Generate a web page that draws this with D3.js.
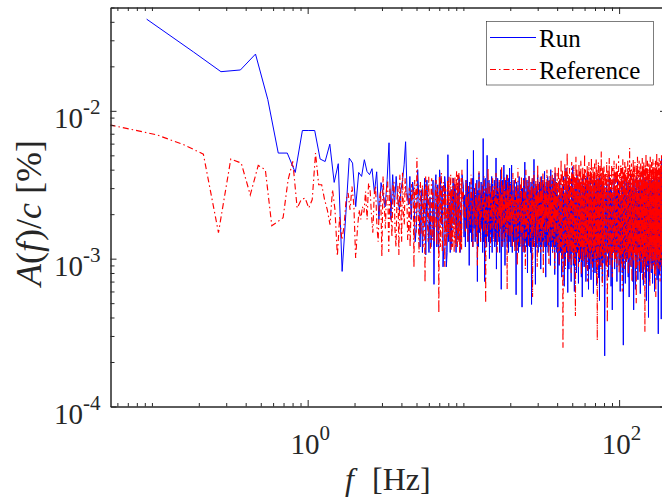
<!DOCTYPE html>
<html><head><meta charset="utf-8">
<script src="https://cdn.jsdelivr.net/npm/d3@7"></script>
<style>html,body{margin:0;padding:0;background:#fff;} svg{display:block;}</style>
</head><body>
<svg id="chart" width="662" height="500"></svg>
<script>
// ---------------- DATA ----------------
const seriesNames = ["Run", "Reference"];
const xTickValues = [1, 100];
const yTickValues = [1e-4, 1e-3, 1e-2];

// Run: low-frequency FFT bins
const runFreq = [0.0925,0.185,0.2775,0.37,0.4625,0.555,0.6475,0.74,0.8325,0.925,1.0175,1.11,1.2025,1.295,1.3875,1.48,1.5725,1.665,1.7575,1.85,
1.9425,2.035,2.1275,2.22,2.3125,2.405,2.4975,2.59,2.6825,2.775,2.8675,2.96,3.0525,3.145,3.2375,3.33,3.4225,3.515,3.6075,3.7,
3.7925,3.885,3.9775,4.07,4.1625,4.255,4.3475,4.44,4.625,4.81,4.995,5.18,5.365,5.55,5.735,5.92,6.105,6.29,6.475,6.66,
6.845,7.03,7.215,7.4,7.585,7.77,7.955,8.14,8.325,8.51,8.695,8.88,9.065,9.25,9.435,9.62,9.805];
const runAmp = [0.0417,0.0250,0.0184,0.0189,0.0242,0.0119,0.00518,0.00518,0.00383,0.00736,0.00736,0.00736,0.00472,0.00454,0.00595,0.00328,0.00439,0.00082,0.00198,0.00479,
0.00443,0.00225,0.00383,0.00360,0.00467,0.00389,0.00370,0.00406,0.00279,0.00387,0.00184,0.00327,0.00270,0.00224,0.00342,0.00608,0.00184,0.00370,0.00224,0.00360,
0.00251,0.00214,0.00293,0.00342,0.00431,0.00618,0.00279,0.00232,0.00184,0.00279,0.00164,0.00251,0.00293,0.00214,0.00106,0.00198,0.00262,0.00157,0.00067,0.00370,
0.00316,0.00399,0.00170,0.00088,0.00360,0.00088,0.00505,0.00239,0.00293,0.00262,0.00170,0.00306,0.00239,0.00134,0.00342,0.00214,0.00370];
// Run: remaining (odd) bins between 4.5 and 10 Hz
const runFreqOdd = [4.5325,4.7175,4.9025,5.0875,5.2725,5.4575,5.6425,5.8275,6.0125,6.1975,6.3825,6.5675,6.7525,6.9375,7.1225,
7.3075,7.4925,7.6775,7.8625,8.0475,8.2325,8.4175,8.6025,8.7875,8.9725,9.1575,9.3425,9.5275,9.7125];
const runAmpOdd = [.0036,.0033,.0013,.0040,.0012,.0011,.0035,.0034,.0011,.0012,.0034,.0030,.0012,.0011,.0034,
.0031,.0012,.0031,.0011,.0013,.0011,.0012,.0035,.0032,.0011,.0031,.0036,.0011,.0013];

// Reference: low-frequency FFT bins
const refFreq = [0.0535,0.107,0.1605,0.214,0.2675,0.321,0.3745,0.428,0.4815,0.535,0.5885,0.642,0.6955,0.749,0.8025,0.856,0.9095,0.963,1.0165,1.07,
1.1235,1.177,1.2305,1.284,1.3375,1.391,1.4445,1.498,1.5515,1.605,1.6585,1.712,1.7655,1.819,1.8725,1.926,1.9795,2.033,2.0865,2.14,
2.1935,2.247,2.3005,2.354,2.4075,2.461,2.568,2.675,2.782,2.889,2.996,3.103,3.21,3.317,3.424,3.531,3.638,3.745,3.852,3.959,
4.066,4.173,4.28,4.387,4.494,4.601,4.708,4.815,4.922,5.029,5.136,5.243,5.35,5.457,5.564,5.671,5.778,5.885,5.992,6.099,
6.206,6.313,6.42,6.527,6.634,6.741,6.848,6.955,7.062,7.169,7.276,7.383,7.49,7.597,7.704,7.811,7.918,8.025,8.132,8.239,
8.346,8.453,8.56,8.667,8.774,8.881,8.988,9.095,9.202,9.309,9.416,9.523,9.63,9.737,9.844];
const refAmp = [0.00804,0.00689,0.00589,0.00509,0.00150,0.00472,0.00443,0.00270,0.00427,0.00399,0.00167,0.00178,0.00189,0.00342,0.00455,0.00220,0.00251,0.00257,0.00220,0.00251,
0.00518,0.00316,0.00316,0.00251,0.00214,0.00170,0.00293,0.00214,0.00104,0.00193,0.00134,0.00165,0.00251,0.00278,0.00214,0.00308,0.00232,0.00101,0.00157,0.00214,
0.00184,0.00225,0.00205,0.00285,0.00184,0.00324,0.00198,0.00270,0.00170,0.00251,0.00103,0.00232,0.00293,0.00111,0.00214,0.00316,0.00157,0.00251,0.00106,0.00232,
0.00381,0.00170,0.00270,0.00134,0.00302,0.00198,0.00251,0.00087,0.00270,0.00481,0.00184,0.00293,0.00145,0.00316,0.00214,0.00069,0.00251,0.00170,0.00358,0.00198,
0.00293,0.00134,0.00270,0.00190,0.00331,0.00124,0.00232,0.00043,0.00251,0.00316,0.00162,0.00270,0.00198,0.00088,0.00293,0.00214,0.00342,0.00145,0.00251,0.00284,
0.00115,0.00232,0.00353,0.00170,0.00258,0.00134,0.00293,0.00208,0.00370,0.00152,0.00251,0.00170,0.00316,0.00115,0.00251];
// Reference: remaining (odd) bins between 2.5 and 10 Hz
const refFreqOdd = [2.5145,2.6215,2.7285,2.8355,2.9425,3.0495,3.1565,3.2635,3.3705,3.4775,3.5845,3.6915,3.7985,3.9055,4.0125,
4.1195,4.2265,4.3335,4.4405,4.5475,4.6545,4.7615,4.8685,4.9755,5.0825,5.1895,5.2965,5.4035,5.5105,5.6175,
5.7245,5.8315,5.9385,6.0455,6.1525,6.2595,6.3665,6.4735,6.5805,6.6875,6.7945,6.9015,7.0085,7.1155,7.2225,
7.3295,7.4365,7.5435,7.6505,7.7575,7.8645,7.9715,8.0785,8.1855,8.2925,8.3995,8.5065,8.6135,8.7205,8.8275,
8.9345,9.0415,9.1485,9.2555,9.3625,9.4695,9.5765,9.6835,9.7905];
const refAmpOdd = [.0030,.0015,.0031,.0013,.0029,.0036,.0016,.0034,.0030,.0014,.0033,.0012,.0031,.0037,.0013,
.0021,.0035,.0028,.0016,.0012,.0032,.0029,.0034,.0015,.0027,.0011,.0033,.0019,.0012,.0030,
.0036,.0031,.0013,.0022,.0011,.0035,.0028,.0013,.0016,.0034,.0030,.0027,.0036,.0012,.0038,
.0011,.0033,.0031,.0030,.0012,.0014,.0034,.0036,.0013,.0037,.0030,.0012,.0032,.0011,.0036,
.0012,.0039,.0012,.0013,.0038,.0011,.0012,.0035,.0040];

// High-frequency band above 10 Hz: upper-edge samples (bandFreqHi) and lower-edge samples (bandFreqLo)
const bandFreqHi = [10,10.2,10.4,10.6,10.8,11,11.2,11.4,11.6,11.8,12,12.2,12.4,12.6,12.8,13,13.2,13.4,13.6,13.8,
14,14.2,14.4,14.6,14.8,15,15.2,15.4,15.6,15.8,16,16.2,16.4,16.6,16.8,17,17.2,17.4,17.6,17.8,
18,18.2,18.4,18.6,18.8,19,19.2,19.4,19.6,19.8,
20,20.4,20.8,21.2,21.6,22,22.4,22.8,23.2,23.6,24,24.4,24.8,25.2,25.6,26,26.4,26.8,27.2,27.6,
28,28.4,28.8,29.2,29.6,30,30.4,30.8,31.2,31.6,32,32.4,32.8,33.2,33.6,34,34.4,34.8,35.2,35.6,
36,36.4,36.8,37.2,37.6,38,38.4,38.8,39.2,39.6,
40,40.8,41.6,42.4,43.2,44,44.8,45.6,46.4,47.2,48,48.8,49.6,50.4,51.2,52,52.8,53.6,54.4,55.2,
56,56.8,57.6,58.4,59.2,60,60.8,61.6,62.4,63.2,64,64.8,65.6,66.4,67.2,68,68.8,69.6,70.4,71.2,
72,72.8,73.6,74.4,75.2,76,76.8,77.6,78.4,79.2,
80,81.6,83.2,84.8,86.4,88,89.6,91.2,92.8,94.4,96,97.6,99.2,100.8,102.4,104,105.6,107.2,108.8,110.4,
112,113.6,115.2,116.8,118.4,120,121.6,123.2,124.8,126.4,128,129.6,131.2,132.8,134.4,136,137.6,139.2,140.8,142.4,
144,145.6,147.2,148.8,150.4,152,153.6,155.2,156.8,158.4,160,161.6,163.2,164.8,166.4,168,169.6,171.2,172.8,174.4,
176,177.6,179.2,180.8,182.4,184,185.6,187.2,188.8,190.4,192,193.6,195.2,196.8,198.4];
const bandFreqLo = [10.1,10.3,10.5,10.7,10.9,11.1,11.3,11.5,11.7,11.9,12.1,12.3,12.5,12.7,12.9,13.1,13.3,13.5,13.7,13.9,
14.1,14.3,14.5,14.7,14.9,15.1,15.3,15.5,15.7,15.9,16.1,16.3,16.5,16.7,16.9,17.1,17.3,17.5,17.7,17.9,
18.1,18.3,18.5,18.7,18.9,19.1,19.3,19.5,19.7,19.9,
20.2,20.6,21,21.4,21.8,22.2,22.6,23,23.4,23.8,24.2,24.6,25,25.4,25.8,26.2,26.6,27,27.4,27.8,
28.2,28.6,29,29.4,29.8,30.2,30.6,31,31.4,31.8,32.2,32.6,33,33.4,33.8,34.2,34.6,35,35.4,35.8,
36.2,36.6,37,37.4,37.8,38.2,38.6,39,39.4,39.8,
40.4,41.2,42,42.8,43.6,44.4,45.2,46,46.8,47.6,48.4,49.2,50,50.8,51.6,52.4,53.2,54,54.8,55.6,
56.4,57.2,58,58.8,59.6,60.4,61.2,62,62.8,63.6,64.4,65.2,66,66.8,67.6,68.4,69.2,70,70.8,71.6,
72.4,73.2,74,74.8,75.6,76.4,77.2,78,78.8,79.6,
80.8,82.4,84,85.6,87.2,88.8,90.4,92,93.6,95.2,96.8,98.4,100,101.6,103.2,104.8,106.4,108,109.6,111.2,
112.8,114.4,116,117.6,119.2,120.8,122.4,124,125.6,127.2,128.8,130.4,132,133.6,135.2,136.8,138.4,140,141.6,143.2,
144.8,146.4,148,149.6,151.2,152.8,154.4,156,157.6,159.2,160.8,162.4,164,165.6,167.2,168.8,170.4,172,173.6,175.2,
176.8,178.4,180,181.6,183.2,184.8,186.4,188,189.6,191.2,192.8,194.4,196,197.6,199.2];

const runBandHi = [.0031,.0027,.0034,.0047,.0029,.0033,.0026,.0035,.0054,.0030,
.0027,.0034,.0029,.0038,.0028,.0033,.0031,.0065,.0028,.0035,
.0030,.0050,.0027,.0034,.0031,.0028,.0036,.0032,.0029,.0034,
.0027,.0048,.0031,.0035,.0028,.0033,.0030,.0040,.0028,.0034,
.0031,.0043,.0029,.0034,.0032,.0037,.0027,.0035,.0031,.0041,
.0032,.0043,.0029,.0034,.0027,.0033,.0030,.0036,.0028,.0032,
.0030,.0035,.0045,.0028,.0034,.0031,.0036,.0029,.0033,.0030,
.0035,.0047,.0028,.0032,.0031,.0037,.0027,.0033,.0031,.0036,
.0029,.0034,.0032,.0039,.0028,.0033,.0030,.0036,.0029,.0034,
.0031,.0040,.0029,.0034,.0027,.0035,.0032,.0038,.0030,.0033,
.0030,.0026,.0034,.0028,.0032,.0036,.0027,.0041,.0029,.0033,
.0031,.0025,.0035,.0042,.0028,.0032,.0030,.0037,.0027,.0034,
.0029,.0033,.0026,.0036,.0031,.0028,.0035,.0030,.0038,.0027,
.0033,.0029,.0036,.0031,.0026,.0034,.0030,.0037,.0028,.0032,
.0035,.0029,.0033,.0027,.0036,.0031,.0034,.0028,.0032,.0030,
.0031,.0027,.0034,.0029,.0036,.0030,.0033,.0026,.0035,.0031,
.0028,.0037,.0030,.0033,.0027,.0035,.0032,.0029,.0036,.0030,
.0034,.0027,.0033,.0031,.0038,.0029,.0032,.0035,.0028,.0034,
.0030,.0036,.0027,.0033,.0031,.0035,.0029,.0034,.0030,.0037,
.0028,.0032,.0035,.0030,.0033,.0027,.0036,.0031,.0034,.0029,
.0032,.0037,.0030,.0034,.0028,.0035,.0031,.0033,.0029,.0036,
.0030,.0034,.0027,.0035,.0032,.0030,.0036,.0049,.0031,.0034,
.0029,.0035,.0032,.0030,.0033];
const runBandLo = [.0014,.0012,.0016,.0013,.00090,.0015,.0013,.0012,.0016,.0013,
.0014,.00070,.0012,.0015,.0013,.0016,.0011,.0013,.00070,.0014,
.0012,.0016,.0013,.0010,.0015,.0013,.0011,.0014,.0016,.0012,
.0013,.00085,.0015,.0013,.0014,.0011,.0016,.00062,.0013,.0012,
.0015,.0013,.00090,.0014,.0016,.0012,.0013,.0011,.0015,.0013,
.0012,.0011,.0013,.0012,.00057,.0013,.0011,.0012,.0014,.00047,
.0012,.0011,.0013,.0012,.00080,.0013,.0012,.0011,.00049,.0013,
.0012,.0014,.00067,.0012,.0013,.0011,.0013,.0012,.00085,.0012,
.0013,.0011,.0012,.0014,.00075,.0012,.0013,.0011,.0012,.0013,
.00090,.0012,.0013,.0011,.0012,.0013,.00078,.0012,.0013,.0011,
.00047,.00090,.0011,.00075,.0010,.00065,.00095,.0011,.00059,.00085,
.0010,.00070,.0011,.00090,.00060,.0010,.00080,.0011,.00068,.00095,
.0010,.00075,.00055,.0011,.00088,.0010,.00070,.00092,.0011,.00062,
.00085,.0010,.00072,.0011,.00090,.00058,.0010,.00080,.0011,.00066,
.00095,.0010,.00074,.00052,.0011,.00088,.0010,.00070,.00093,.0011,
.00022,.00090,.0011,.00075,.0010,.00065,.00045,.0011,.00085,.0010,
.00070,.0011,.00090,.00060,.0010,.00080,.00026,.0011,.00068,.00095,
.0010,.00075,.00055,.0011,.00088,.0010,.00070,.00045,.0011,.00062,
.00085,.0010,.00072,.0011,.00090,.00058,.0010,.00080,.0011,.00066,
.00095,.0010,.00074,.00052,.0011,.00088,.00040,.00070,.00093,.0011,
.00080,.0010,.00068,.0011,.00090,.00060,.0010,.00085,.0011,.00072,
.00095,.00031,.0010,.00078,.0011,.00088,.00039,.0010,.00070,.0011,
.00092,.00065,.0010,.00085,.0011];

const refBandHi = [.0028,.0023,.0034,.0026,.0031,.0021,.0037,.0025,.0030,.0022,
.0033,.0027,.0024,.0039,.0029,.0022,.0032,.0026,.0036,.0024,
.0030,.0021,.0041,.0027,.0033,.0025,.0029,.0035,.0023,.0031,
.0026,.0038,.0024,.0030,.0022,.0034,.0028,.0025,.0042,.0027,
.0032,.0023,.0036,.0026,.0029,.0024,.0037,.0028,.0031,.0025,
.0033,.0027,.0038,.0025,.0035,.0029,.0041,.0026,.0032,.0036,
.0024,.0034,.0028,.0040,.0026,.0033,.0037,.0027,.0031,.0035,
.0025,.0039,.0030,.0034,.0027,.0043,.0032,.0026,.0036,.0029,
.0033,.0038,.0025,.0035,.0031,.0028,.0040,.0027,.0034,.0030,
.0037,.0026,.0032,.0039,.0028,.0035,.0031,.0042,.0027,.0033,
.0038,.0042,.0035,.0047,.0040,.0036,.0044,.0039,.0052,.0037,
.0041,.0035,.0045,.0038,.0043,.0036,.0049,.0040,.0037,.0044,
.0039,.0046,.0035,.0042,.0038,.0051,.0040,.0036,.0043,.0039,
.0045,.0037,.0041,.0048,.0036,.0042,.0039,.0044,.0035,.0047,
.0040,.0038,.0045,.0037,.0043,.0041,.0053,.0036,.0042,.0039,
.0042,.0038,.0045,.0040,.0048,.0037,.0043,.0041,.0046,.0039,
.0044,.0040,.0050,.0038,.0043,.0041,.0047,.0039,.0045,.0042,
.0038,.0046,.0041,.0056,.0040,.0044,.0039,.0047,.0042,.0045,
.0038,.0043,.0049,.0040,.0046,.0041,.0044,.0039,.0048,.0042,
.0045,.0040,.0043,.0051,.0041,.0046,.0039,.0044,.0042,.0049,
.0040,.0045,.0043,.0047,.0041,.0044,.0039,.0046,.0042,.0052,
.0040,.0045,.0043,.0048,.0041,.0046,.0044,.0050,.0042,.0047,
.0040,.0045,.0049,.0043,.0046];
const refBandLo = [.0019,.0015,.0022,.0013,.0018,.0016,.0024,.0012,.0020,.0017,
.0014,.00090,.0021,.0016,.0013,.0019,.0023,.0015,.0018,.00050,
.0020,.0014,.0017,.0022,.0012,.0019,.0016,.0021,.0013,.0018,
.0015,.0023,.0011,.0017,.0020,.0014,.0019,.0016,.0012,.0021,
.0017,.0013,.0022,.0015,.0019,.00062,.0016,.0020,.0014,.0018,
.0014,.0012,.0017,.0011,.0016,.00090,.0013,.0018,.0012,.0015,
.0011,.0017,.00085,.0014,.0016,.0012,.0018,.0013,.0015,.00055,
.0016,.0012,.0019,.0014,.00088,.0015,.0013,.0017,.0011,.0014,
.0016,.00080,.0018,.0013,.0015,.0019,.0012,.0016,.00092,.0014,
.0017,.0013,.0016,.0011,.0019,.0014,.00085,.0016,.0013,.0018,
.0011,.00090,.0012,.0010,.00025,.0011,.00085,.0012,.0010,.00095,
.0012,.00080,.0011,.0010,.00092,.00041,.0011,.0012,.00088,.0010,
.0012,.00078,.0011,.00095,.0012,.0010,.00085,.0011,.00070,.0012,
.0010,.0011,.00090,.0012,.00082,.0011,.0010,.00095,.0012,.00075,
.00028,.0011,.00090,.0012,.0010,.00085,.0011,.00065,.0012,.0010,
.0010,.00085,.00037,.0011,.00090,.0010,.00075,.0011,.00095,.0010,
.00088,.0011,.00080,.0010,.00092,.00060,.0011,.00085,.0010,.00095,
.0011,.00078,.0010,.00090,.0011,.00070,.0010,.00095,.0011,.00085,
.00050,.0010,.00090,.0011,.00080,.0010,.00095,.0011,.00072,.0010,
.00088,.00032,.0011,.00090,.0010,.00082,.0011,.00095,.00065,.0010,
.0011,.00085,.0010,.00092,.0011,.00078,.0010,.00055,.0011,.00090,
.0010,.00085,.0011,.00095,.00070,.0010,.0011,.00088,.0010,.00060,
.0011,.00092,.0010,.00080,.0011];

// ---------------- CHART ----------------
const AX = "#262626";
const FONT = "'Liberation Serif','Times New Roman',serif";
const svg = d3.select("#chart");

const x = d3.scaleLog().domain([0.0542, 200]).range([110.5, 666]);
const y = d3.scaleLog().domain([1e-4, 0.05]).range([406.5, 7.5]);

function zip(f, a) { const n = Math.min(f.length, a.length); const out = []; for (let i = 0; i < n; i++) out.push({f: f[i], a: a[i]}); return out; }
const byF = (p, q) => p.f - q.f;
const runData = zip(runFreq, runAmp).concat(zip(runFreqOdd, runAmpOdd), zip(bandFreqHi, runBandHi), zip(bandFreqLo, runBandLo)).sort(byF);
const refData = zip(refFreq, refAmp).concat(zip(refFreqOdd, refAmpOdd), zip(bandFreqHi, refBandHi), zip(bandFreqLo, refBandLo)).sort(byF);

svg.append("defs").append("clipPath").attr("id", "clip")
  .append("rect").attr("x", 110.5).attr("y", 7.5).attr("width", 556).attr("height", 399);

const line = d3.line().x(d => x(d.f)).y(d => y(d.a));
const plot = svg.append("g").attr("clip-path", "url(#clip)");
plot.append("path").datum(runData).attr("d", line)
  .attr("fill", "none").attr("stroke", "#0000ff").attr("stroke-width", 1);
plot.append("path").datum(refData).attr("d", line)
  .attr("fill", "none").attr("stroke", "#ff0000").attr("stroke-width", 1.15)
  .attr("stroke-dasharray", "6,3,1.5,3");

// minor ticks
const xMinor = [], yMinor = [];
for (let e = -2; e <= 2; e++) for (let m = 1; m <= 9; m++) {
  const v = m * Math.pow(10, e);
  if (v >= 0.0542 && v <= 200 && !xTickValues.some(t => Math.abs(t - v) / t < 1e-9)) xMinor.push(v);
}
for (let e = -4; e <= -2; e++) for (let m = 1; m <= 9; m++) {
  const v = m * Math.pow(10, e);
  if (v <= 0.05 && !yTickValues.some(t => Math.abs(t - v) / t < 1e-9)) yMinor.push(v);
}

function styleAxis(g) {
  g.attr("color", AX);
  g.select(".domain").attr("stroke", AX).attr("stroke-width", 1);
  g.selectAll(".tick line").attr("stroke", AX).attr("stroke-width", 1);
}
function powLabel(textSel) {
  textSel.each(function(d) {
    const t = d3.select(this);
    const e = Math.round(Math.log10(d));
    t.text(null).attr("font-family", FONT).attr("font-size", 29).attr("fill", AX);
    t.append("tspan").text("10");
    t.append("tspan").attr("dy", -14).attr("font-size", 21).text(String(e));
  });
}

// bottom
const gB = svg.append("g").attr("transform", "translate(0,406.5)");
gB.call(d3.axisBottom(x).tickValues(xTickValues).tickSize(-6.5).tickSizeOuter(0).tickFormat(() => ""));
styleAxis(gB);
gB.selectAll(".tick text").attr("y", 47.5).attr("dy", 0).attr("dx", 2).call(powLabel);
const gBm = svg.append("g").attr("transform", "translate(0,406.5)");
gBm.call(d3.axisBottom(x).tickValues(xMinor).tickSize(-3.5).tickSizeOuter(0).tickFormat(() => ""));
styleAxis(gBm);
// top
const gT = svg.append("g").attr("transform", "translate(0,7.5)");
gT.call(d3.axisTop(x).tickValues(xTickValues).tickSize(-6.5).tickSizeOuter(0).tickFormat(() => ""));
styleAxis(gT);
const gTm = svg.append("g").attr("transform", "translate(0,7.5)");
gTm.call(d3.axisTop(x).tickValues(xMinor).tickSize(-3.5).tickSizeOuter(0).tickFormat(() => ""));
styleAxis(gTm);
// left
const gL = svg.append("g").attr("transform", "translate(110.5,0)");
gL.call(d3.axisLeft(y).tickValues(yTickValues).tickSize(-6).tickSizeOuter(0).tickFormat(() => ""));
styleAxis(gL);
gL.selectAll(".tick text").attr("x", -10).attr("dy", 0).attr("y", 17).attr("text-anchor", "end").call(powLabel);
const gLm = svg.append("g").attr("transform", "translate(110.5,0)");
gLm.call(d3.axisLeft(y).tickValues(yMinor).tickSize(-4).tickSizeOuter(0).tickFormat(() => ""));
styleAxis(gLm);
// right
const gR = svg.append("g").attr("transform", "translate(666,0)");
gR.call(d3.axisRight(y).tickValues(yTickValues).tickSize(-6).tickSizeOuter(0).tickFormat(() => ""));
styleAxis(gR);
const gRm = svg.append("g").attr("transform", "translate(666,0)");
gRm.call(d3.axisRight(y).tickValues(yMinor).tickSize(-4).tickSizeOuter(0).tickFormat(() => ""));
styleAxis(gRm);

// axis labels
const xl = svg.append("text").attr("font-family", FONT).attr("font-size", 32).attr("fill", AX).attr("y", 490);
xl.append("tspan").attr("x", 345).attr("font-style", "italic").text("f");
xl.append("tspan").attr("x", 372).text("[Hz]");

const yl = svg.append("text").attr("font-family", FONT).attr("font-size", 36).attr("fill", AX)
  .attr("transform", "translate(41,286) rotate(-90)").attr("x", 0).attr("y", 0);
yl.append("tspan").attr("font-style", "italic").text("A");
yl.append("tspan").text("(");
yl.append("tspan").attr("font-style", "italic").text("f");
yl.append("tspan").attr("dx", 1).text(")/");
yl.append("tspan").attr("font-style", "italic").text("c");
yl.append("tspan").attr("dx", 9).text("[%]");

// legend
const lg = svg.append("g");
lg.append("rect").attr("x", 486.5).attr("y", 21.5).attr("width", 167).attr("height", 63.5)
  .attr("fill", "#fff").attr("stroke", AX).attr("stroke-width", 0.6);
const legendItems = [
  {name: seriesNames[0], color: "#0000ff", dash: null, yy: 37.5},
  {name: seriesNames[1], color: "#ff0000", dash: "6,3,1.5,3", yy: 69.5}
];
legendItems.forEach(it => {
  lg.append("line").attr("x1", 490).attr("x2", 536).attr("y1", it.yy).attr("y2", it.yy)
    .attr("stroke", it.color).attr("stroke-width", 1).attr("stroke-dasharray", it.dash);
  lg.append("text").attr("x", 539).attr("y", it.yy + 9).attr("font-family", FONT).attr("font-size", 25)
    .attr("fill", "#000").text(it.name);
});
</script>
</body></html>
